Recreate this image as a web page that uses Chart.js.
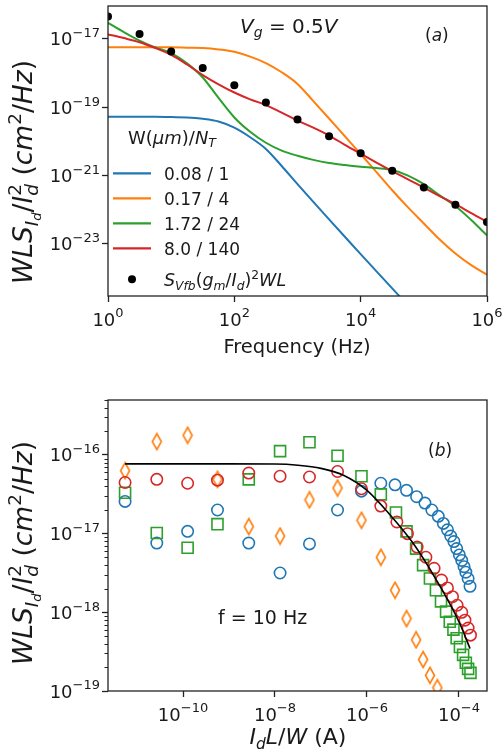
<!DOCTYPE html>
<html>
<head>
<meta charset="utf-8">
<script src="https://cdn.jsdelivr.net/npm/chart.js@4.4.1/dist/chart.umd.min.js"></script>
<style>
  html, body { margin: 0; padding: 0; background: #fff; }
  #wrapA { position: absolute; left: 0; top: 0; width: 503px; height: 372px; }
  #wrapB { position: absolute; left: 0; top: 372px; width: 503px; height: 383px; }
</style>
</head>
<body>
<div id="wrapA"><canvas id="chartA" width="503" height="372"></canvas></div>
<div id="wrapB"><canvas id="chartB" width="503" height="383"></canvas></div>
<script>
// ---- panel (a): spectra vs frequency ----
const freqA = [1, 1.78, 3.16, 5.62, 10, 17.8, 31.6, 56.2, 100, 178, 316, 562, 1e3, 1.78e3, 3.16e3, 5.62e3, 1e4, 1.78e4, 3.16e4, 5.62e4, 1e5, 1.78e5, 3.16e5, 5.62e5, 1e6];
const blueA = [5.25e-20, 5.25e-20, 5.25e-20, 5.25e-20, 5.13e-20, 5.01e-20, 4.57e-20, 3.8e-20, 2.51e-20, 1.32e-20, 6.03e-21, 1.91e-21, 5.62e-22, 1.7e-22, 5.25e-23, 1.62e-23, 5.01e-24, 1.58e-24, 5.01e-25, 1.58e-25, 5.01e-26, null, null, null, null];
const orangeA = [5.62e-18, 5.62e-18, 5.62e-18, 5.62e-18, 5.62e-18, 5.5e-18, 5.37e-18, 4.9e-18, 4.17e-18, 3.02e-18, 1.95e-18, 1.05e-18, 4.79e-19, 1.51e-19, 4.68e-20, 1.41e-20, 4.27e-21, 1.26e-21, 3.72e-22, 1.17e-22, 3.98e-23, 1.35e-23, 5.25e-24, 2.4e-24, 1.26e-24];
const greenA = [2.95e-17, 1.58e-17, 8.91e-18, 5.62e-18, 3.8e-18, 1.91e-18, 7.41e-19, 1.86e-19, 5.01e-20, 1.91e-20, 9.12e-21, 5.37e-21, 3.8e-21, 2.88e-21, 2.34e-21, 2.04e-21, 1.82e-21, 1.66e-21, 1.45e-21, 1.0e-21, 5.62e-22, 2.63e-22, 1.29e-22, 5.01e-23, 1.78e-23];
const redA = [1.35e-17, 1.05e-17, 7.94e-18, 5.37e-18, 3.39e-18, 1.78e-18, 8.71e-19, 4.68e-19, 2.69e-19, 1.7e-19, 1.15e-19, 6.92e-20, 4.07e-20, 2.51e-20, 1.48e-20, 7.94e-21, 4.37e-21, 2.4e-21, 1.35e-21, 7.76e-22, 4.47e-22, 2.51e-22, 1.45e-22, 7.94e-23, 4.47e-23];
const dotFreq = [1, 3.16, 10, 31.6, 100, 316, 1e3, 3.16e3, 1e4, 3.16e4, 1e5, 3.16e5, 1e6];
const dotS = [4.47e-17, 1.38e-17, 4.27e-18, 1.41e-18, 4.37e-19, 1.38e-19, 4.37e-20, 1.41e-20, 4.47e-21, 1.38e-21, 4.47e-22, 1.41e-22, 4.37e-23];
const legendLabels = ['0.08 / 1', '0.17 / 4', '1.72 / 24', '8.0 / 140'];
const xTicksA = [1, 1e2, 1e4, 1e6];
const yTicksA = [1e-23, 1e-21, 1e-19, 1e-17];

// ---- panel (b): noise at 10 Hz vs normalised current ----
const blueX = [5.5e-12, 2.69e-11, 1.26e-10, 5.62e-10, 2.69e-9, 1.29e-8, 5.62e-8, 2.29e-7, 7.59e-7, 2.0e-6, 4.07e-6, 7.24e-6, 1.2e-5, 1.82e-5, 2.57e-5, 3.55e-5, 4.57e-5, 5.62e-5, 6.61e-5, 7.76e-5, 8.91e-5, 1.02e-4, 1.15e-4, 1.29e-4, 1.41e-4, 1.58e-4, 1.74e-4];
const blueY = [2.57e-17, 7.59e-18, 1.07e-17, 2.0e-17, 7.59e-18, 3.16e-18, 7.41e-18, 2.0e-17, 3.47e-17, 4.37e-17, 4.17e-17, 3.55e-17, 2.95e-17, 2.45e-17, 2.0e-17, 1.66e-17, 1.35e-17, 1.12e-17, 9.33e-18, 7.94e-18, 6.46e-18, 5.37e-18, 4.57e-18, 3.8e-18, 3.24e-18, 2.69e-18, 2.14e-18];
const orangeX = [5.5e-12, 2.69e-11, 1.26e-10, 5.62e-10, 2.69e-9, 1.29e-8, 5.62e-8, 2.29e-7, 7.59e-7, 2.0e-6, 4.07e-6, 7.24e-6, 1.17e-5, 1.66e-5, 2.34e-5, 3.39e-5];
const orangeY = [6.31e-17, 1.48e-16, 1.78e-16, 4.9e-17, 1.23e-17, 9.33e-18, 2.69e-17, 3.8e-17, 1.48e-17, 5.01e-18, 1.91e-18, 8.32e-19, 4.47e-19, 2.51e-19, 1.58e-19, 1.1e-19];
const greenX = [5.5e-12, 2.69e-11, 1.26e-10, 5.62e-10, 2.69e-9, 1.29e-8, 5.62e-8, 2.29e-7, 7.59e-7, 2.0e-6, 4.27e-6, 7.24e-6, 1.17e-5, 1.66e-5, 2.34e-5, 3.16e-5, 4.07e-5, 5.25e-5, 6.31e-5, 7.59e-5, 8.91e-5, 1.05e-4, 1.23e-4, 1.41e-4, 1.58e-4, 1.78e-4];
const greenY = [3.31e-17, 1.02e-17, 6.61e-18, 1.32e-17, 4.9e-17, 1.12e-16, 1.45e-16, 9.77e-17, 5.37e-17, 3.16e-17, 1.86e-17, 1.07e-17, 6.46e-18, 3.98e-18, 2.69e-18, 1.91e-18, 1.38e-18, 1.02e-18, 7.59e-19, 6.03e-19, 4.68e-19, 3.63e-19, 2.88e-19, 2.29e-19, 1.91e-19, 1.7e-19];
const redX = [5.5e-12, 2.69e-11, 1.26e-10, 5.62e-10, 2.69e-9, 1.29e-8, 5.62e-8, 2.29e-7, 7.59e-7, 2.0e-6, 4.47e-6, 7.59e-6, 1.23e-5, 1.91e-5, 2.88e-5, 4.17e-5, 5.62e-5, 7.24e-5, 9.12e-5, 1.15e-4, 1.35e-4, 1.58e-4, 1.78e-4];
const redY = [4.47e-17, 4.9e-17, 4.37e-17, 4.79e-17, 5.89e-17, 5.37e-17, 5.25e-17, 6.17e-17, 3.72e-17, 2.24e-17, 1.41e-17, 1.0e-17, 6.76e-18, 5.01e-18, 3.63e-18, 2.57e-18, 2.04e-18, 1.58e-18, 1.23e-18, 1.0e-18, 7.94e-19, 6.31e-19, 5.13e-19];
const fitX = [5.5e-12, 1e-10, 1e-9, 1e-8, 3.16e-8, 1e-7, 3.16e-7, 1e-6, 3.16e-6, 1e-5, 3.16e-5, 1e-4, 1.74e-4];
const fitY = [7.7e-17, 7.7e-17, 7.7e-17, 7.67e-17, 7.41e-17, 6.76e-17, 5.5e-17, 3.55e-17, 1.74e-17, 7.59e-18, 2.63e-18, 7.59e-19, 3.47e-19];
const xTicksB = [1e-10, 1e-8, 1e-6, 1e-4];
const yTicksB = [1e-19, 1e-18, 1e-17, 1e-16];

const C = { blue: '#1f77b4', orange: '#ff7f0e', green: '#2ca02c', red: '#d62728' };
const INK = '#1a1a1a';
const FONT = '"DejaVu Sans", sans-serif';
Chart.defaults.font.family = FONT;
Chart.defaults.color = INK;

function pairs(xs, ys) {
  return xs.map((x, i) => ({ x: x, y: ys[i] }));
}

// little text layout helper for sub / superscripts
function drawRich(ctx, parts, x, y, size, align) {
  const items = [];
  let cur = 0, prev = 0;
  for (const p of parts) {
    const fs = size * (p.s || 1);
    ctx.font = (p.i ? 'italic ' : '') + fs.toFixed(1) + 'px ' + FONT;
    const w = ctx.measureText(p.t).width;
    const start = p.k ? prev : cur;
    items.push({ p: p, fs: fs, start: start });
    prev = start;
    cur = Math.max(cur, start + w);
  }
  const x0 = align === 'center' ? x - cur / 2 : (align === 'right' ? x - cur : x);
  ctx.textAlign = 'left';
  ctx.textBaseline = 'alphabetic';
  for (const it of items) {
    ctx.font = (it.p.i ? 'italic ' : '') + it.fs.toFixed(1) + 'px ' + FONT;
    ctx.fillText(it.p.t, x0 + it.start, y + (it.p.dy || 0) * size);
  }
}

// 10^n tick labels placed on the library's own tick positions
function drawPow(ctx, v, x, y, align) {
  const e = Math.round(Math.log10(v));
  drawRich(ctx, [{ t: '10' }, { t: String(e).replace('-', '\u2212'), s: 0.72, dy: -0.45 }], x, y, 18, align);
}
function tickLabels(ctx, chart) {
  const xs = chart.scales.x, ys = chart.scales.y, a = chart.chartArea;
  ctx.fillStyle = INK;
  xs.ticks.forEach(t => drawPow(ctx, t.value, xs.getPixelForValue(t.value), a.bottom + 29.5, 'center'));
  ys.ticks.forEach(t => drawPow(ctx, t.value, 100, ys.getPixelForValue(t.value) + 6.5, 'right'));
}

const yLabelParts = [
  { t: 'WLS', i: 1 }, { t: 'I', i: 1, s: 0.7, dy: 0.22 }, { t: 'd', i: 1, s: 0.49, dy: 0.34 },
  { t: '/' }, { t: 'I', i: 1 }, { t: 'd', i: 1, s: 0.7, dy: 0.22 }, { t: '2', s: 0.7, dy: -0.4, k: 1 },
  { t: ' (' }, { t: 'cm', i: 1 }, { t: '2', s: 0.7, dy: -0.4 }, { t: '/' }, { t: 'Hz', i: 1 }, { t: ')' }
];

function frame(ctx, a) {
  ctx.strokeStyle = '#222';
  ctx.lineWidth = 1.3;
  ctx.strokeRect(a.left, a.top, a.right - a.left, a.bottom - a.top);
}

function logAxis(min, max, tickVals, fitSize, horizontal) {
  return {
    type: 'logarithmic',
    min: min,
    max: max,
    afterBuildTicks: s => { s.ticks = tickVals.map(v => ({ value: v })); },
    afterFit: s => { if (horizontal) s.height = fitSize; else s.width = fitSize; },
    ticks: { display: false, autoSkip: false, maxRotation: 0 },
    grid: { drawOnChartArea: false, drawTicks: true, tickLength: 6, tickWidth: 1.3, tickColor: '#222' },
    border: { display: false }
  };
}

const decorA = {
  id: 'decorA',
  afterDraw(chart) {
    const ctx = chart.ctx, a = chart.chartArea;
    ctx.save();
    frame(ctx, a);
    tickLabels(ctx, chart);
    ctx.fillStyle = INK;
    drawRich(ctx, [{ t: 'Frequency (Hz)' }], 297, 353, 19.5, 'center');
    drawRich(ctx, [{ t: 'V', i: 1 }, { t: 'g', i: 1, s: 0.7, dy: 0.22 }, { t: ' = 0.5' }, { t: 'V', i: 1 }], 240, 33, 20, 'left');
    drawRich(ctx, [{ t: '(' }, { t: 'a', i: 1 }, { t: ')' }], 425, 40.5, 17, 'left');

    // legend
    drawRich(ctx, [{ t: 'W(' }, { t: '\u03BCm', i: 1 }, { t: ')/' }, { t: 'N', i: 1 }, { t: 'T', i: 1, s: 0.7, dy: 0.22 }], 128, 143.5, 18, 'left');
    const cols = [C.blue, C.orange, C.green, C.red];
    legendLabels.forEach((lab, i) => {
      const ly = 173.3 + i * 25;
      ctx.strokeStyle = cols[i];
      ctx.lineWidth = 2.2;
      ctx.beginPath();
      ctx.moveTo(113, ly);
      ctx.lineTo(151, ly);
      ctx.stroke();
      drawRich(ctx, [{ t: lab }], 164, ly + 6.2, 17, 'left');
    });
    ctx.fillStyle = '#000';
    ctx.beginPath();
    ctx.arc(132, 279.3, 4, 0, Math.PI * 2);
    ctx.fill();
    ctx.fillStyle = INK;
    drawRich(ctx, [{ t: 'S', i: 1 }, { t: 'Vfb', i: 1, s: 0.7, dy: 0.22 }, { t: '(' }, { t: 'g', i: 1 }, { t: 'm', i: 1, s: 0.7, dy: 0.22 },
      { t: '/' }, { t: 'I', i: 1 }, { t: 'd', i: 1, s: 0.7, dy: 0.22 }, { t: ')' }, { t: '2', s: 0.7, dy: -0.4 }, { t: 'WL', i: 1 }], 164, 286, 17.5, 'left');

    ctx.translate(32, 172);
    ctx.rotate(-Math.PI / 2);
    drawRich(ctx, yLabelParts, 0, 0, 26.5, 'center');
    ctx.restore();
  }
};

const decorB = {
  id: 'decorB',
  afterDraw(chart) {
    const ctx = chart.ctx, a = chart.chartArea, ys = chart.scales.y;
    ctx.save();
    // minor ticks on the y axis
    ctx.strokeStyle = '#222';
    ctx.lineWidth = 1;
    for (let n = -19; n <= -16; n++) {
      for (let k = 2; k <= 9; k++) {
        const v = k * Math.pow(10, n);
        if (v < ys.min || v > ys.max) continue;
        const py = Math.round(ys.getPixelForValue(v)) + 0.5;
        ctx.beginPath();
        ctx.moveTo(a.left - 3.5, py);
        ctx.lineTo(a.left, py);
        ctx.stroke();
      }
    }
    frame(ctx, a);
    tickLabels(ctx, chart);
    ctx.fillStyle = INK;
    drawRich(ctx, [{ t: 'I', i: 1 }, { t: 'd', i: 1, s: 0.7, dy: 0.22 }, { t: 'L', i: 1 }, { t: '/' }, { t: 'W', i: 1 }, { t: ' (A)' }], 298, 372, 22, 'center');
    drawRich(ctx, [{ t: '(' }, { t: 'b', i: 1 }, { t: ')' }], 428, 84, 17, 'left');
    drawRich(ctx, [{ t: 'f = 10 Hz' }], 218, 251.5, 19, 'left');
    ctx.translate(32, 181);
    ctx.rotate(-Math.PI / 2);
    drawRich(ctx, yLabelParts, 0, 0, 26.5, 'center');
    ctx.restore();
  }
};

// thin diamond marker like matplotlib 'd'
function thinDiamond(color) {
  const c = document.createElement('canvas');
  c.width = 12;
  c.height = 19;
  const g = c.getContext('2d');
  g.strokeStyle = color;
  g.lineWidth = 1.6;
  g.beginPath();
  g.moveTo(6, 1.5);
  g.lineTo(10.5, 9.5);
  g.lineTo(6, 17.5);
  g.lineTo(1.5, 9.5);
  g.closePath();
  g.stroke();
  return c;
}

function curve(xs, ys, color) {
  return { data: pairs(xs, ys), borderColor: color, borderWidth: 2, pointRadius: 0, fill: false, cubicInterpolationMode: 'monotone' };
}
function markers(xs, ys, color, style, r) {
  return { data: pairs(xs, ys), showLine: false, borderColor: color, backgroundColor: 'rgba(0,0,0,0)', pointStyle: style, pointRadius: r, pointBorderWidth: 1.6, pointBorderColor: color, pointBackgroundColor: 'rgba(0,0,0,0)' };
}

new Chart(document.getElementById('chartA'), {
  type: 'line',
  data: {
    datasets: [
      { data: pairs(dotFreq, dotS), showLine: false, pointRadius: 4, pointBackgroundColor: '#000', pointBorderColor: '#000', pointBorderWidth: 0 },
      curve(freqA, redA, C.red),
      curve(freqA, greenA, C.green),
      curve(freqA, orangeA, C.orange),
      curve(freqA, blueA, C.blue)
    ]
  },
  options: {
    responsive: false,
    animation: false,
    events: [],
    layout: { padding: { top: 6, right: 16, left: 0, bottom: 0 } },
    plugins: { legend: { display: false }, tooltip: { enabled: false } },
    scales: {
      x: logAxis(1, 1e6, xTicksA, 76, true),
      y: logAxis(3.24e-25, 9.12e-17, yTicksA, 108, false)
    }
  },
  plugins: [decorA]
});

new Chart(document.getElementById('chartB'), {
  type: 'line',
  data: {
    datasets: [
      { data: pairs(fitX, fitY), borderColor: '#000', borderWidth: 1.6, pointRadius: 0, fill: false, cubicInterpolationMode: 'monotone' },
      markers(redX, redY, C.red, 'circle', 5.7),
      markers(greenX, greenY, C.green, 'rect', 7.8),
      markers(orangeX, orangeY, C.orange, thinDiamond(C.orange), 8),
      markers(blueX, blueY, C.blue, 'circle', 5.7)
    ]
  },
  options: {
    responsive: false,
    animation: false,
    events: [],
    layout: { padding: { top: 28, right: 16, left: 0, bottom: 0 } },
    plugins: { legend: { display: false }, tooltip: { enabled: false } },
    scales: {
      x: logAxis(2.34e-12, 4.07e-4, xTicksB, 64, true),
      y: logAxis(1e-19, 5.0e-16, yTicksB, 108, false)
    }
  },
  plugins: [decorB]
});
</script>
</body>
</html>
